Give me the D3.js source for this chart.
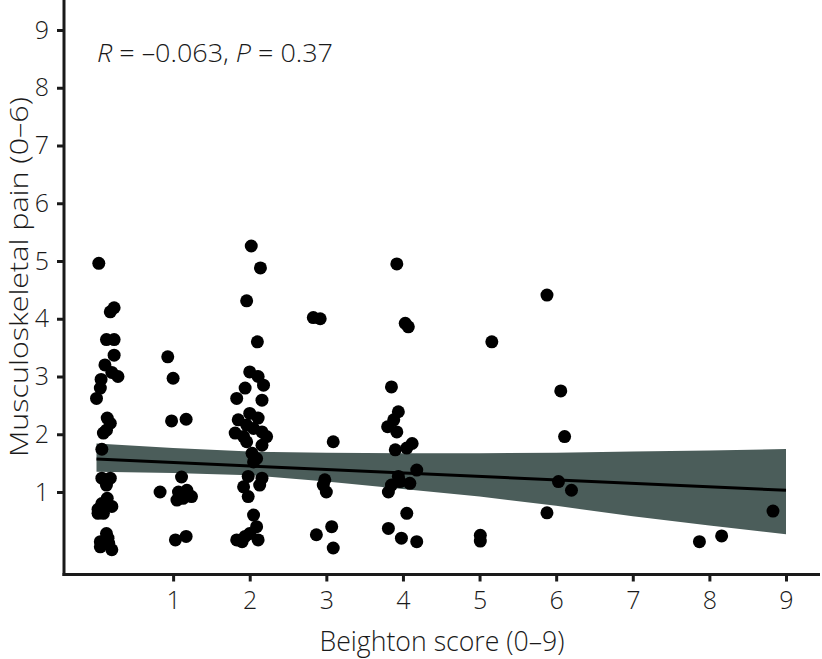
<!DOCTYPE html>
<html>
<head>
<meta charset="utf-8">
<script src="https://cdn.jsdelivr.net/npm/d3@7/dist/d3.min.js"></script>
<style>
  html, body { margin: 0; padding: 0; background: #ffffff; }
  svg { display: block; }
  text { font-family: "Open Sans", "Noto Sans", sans-serif; fill: #1a1a1a; }
</style>
</head>
<body>
<div id="chart"></div>
<script>
// ---- data (jittered positions as plotted) ----
const xTicks = [1, 2, 3, 4, 5, 6, 7, 8, 9];
const yTicks = [1, 2, 3, 4, 5, 6, 7, 8, 9];

const beighton = [
  // group 0
  0.03, 0.18, 0.23, 0.23, 0.13, 0.23, 0.11, 0.20, 0.28, 0.06, 0.05, 0.00,
  0.14, 0.18, 0.13, 0.09, 0.07,
  0.18, 0.07, 0.13, 0.14,
  0.07, 0.20, 0.02, 0.09, 0.02, 0.13, 0.05, 0.16,
  0.20, 0.05, 0.15, 0.09,
  // group 1
  0.93, 1.00, 0.98, 1.17, 1.11, 0.83, 1.07, 1.18, 1.24, 1.05, 1.13, 1.03, 1.17,
  // group 2
  2.02, 2.14, 1.96, 2.10, 2.00, 2.11, 2.18, 1.94, 2.16, 1.83,
  2.00, 2.11, 1.85, 1.96, 2.05, 1.81, 2.16, 1.92, 2.22, 1.96, 2.16,
  2.03, 2.09, 2.05,
  1.98, 2.16, 2.13, 1.92, 1.98,
  2.05, 2.09,
  1.83, 1.94, 2.00, 2.11, 1.90,
  // group 3
  2.83, 2.92, 3.09, 2.98, 2.96, 3.00, 2.87, 3.07, 3.09,
  // group 4
  3.92, 4.07, 4.03, 3.85, 3.94, 3.88, 3.80, 3.92, 4.12, 4.05, 3.90, 4.18,
  3.94, 4.09, 3.85, 3.96, 3.81, 4.05, 3.81, 3.98, 4.18,
  // group 5
  5.16, 5.01, 5.01,
  // group 6
  5.88, 6.06, 6.11, 6.03, 6.20, 5.88,
  // group 8-9
  7.87, 8.16, 8.83
];
const pain = [
  4.96, 4.12, 4.19, 3.64, 3.64, 3.37, 3.20, 3.07, 3.00, 2.95, 2.80, 2.62,
  2.28, 2.19, 2.07, 2.02, 1.74,
  1.24, 1.24, 1.12, 0.89,
  0.80, 0.75, 0.63, 0.63, 0.70, 0.28, 0.14, 0.11,
  0.00, 0.05, 0.20, 0.10,
  // group 1
  3.34, 2.97, 2.23, 2.26, 1.26, 1.00, 1.00, 1.03, 0.92, 0.86, 0.89, 0.17, 0.23,
  // group 2
  5.26, 4.88, 4.31, 3.60, 3.08, 3.00, 2.85, 2.80, 2.59, 2.62,
  2.36, 2.28, 2.25, 2.16, 2.10, 2.02, 2.04, 1.96, 1.96, 1.87, 1.81,
  1.67, 1.58, 1.52,
  1.27, 1.24, 1.12, 1.09, 0.92,
  0.60, 0.40,
  0.17, 0.23, 0.28, 0.17, 0.14,
  // group 3
  4.02, 4.00, 1.87, 1.21, 1.12, 1.00, 0.26, 0.40, 0.03,
  // group 4
  4.95, 3.86, 3.92, 2.82, 2.39, 2.25, 2.13, 2.04, 1.84, 1.76, 1.73, 1.38,
  1.27, 1.15, 1.12, 1.18, 1.00, 0.63, 0.37, 0.20, 0.14,
  // group 5
  3.60, 0.25, 0.15,
  // group 6
  4.41, 2.75, 1.96, 1.18, 1.03, 0.64,
  // group 8-9
  0.14, 0.24, 0.67
];

// regression fit and confidence band
const bandX     = [0,    1,    2,    3,    4,    5,    6,    7,    8,    9];
const bandUpper = [1.84, 1.76, 1.70, 1.68, 1.67, 1.67, 1.68, 1.70, 1.72, 1.745];
const bandLower = [1.35, 1.33, 1.29, 1.18, 1.05, 0.92, 0.76, 0.58, 0.42, 0.27];
const fitX = [0, 9];
const fitY = [1.57, 1.03];

const annotation = { r: "R", rVal: " = \u20130.063, ", p: "P", pVal: " = 0.37" };
const xTitle = "Beighton score (0\u20139)";
const yTitle = "Musculoskeletal pain (0\u20136)";

// ---- drawing ----
const W = 822, H = 659;
const svg = d3.select("#chart").append("svg").attr("width", W).attr("height", H);

const x = d3.scaleLinear().domain([0, 9]).range([96.5, 786]);
const y = d3.scaleLinear().domain([0, 9]).range([549.75, 30]);

const axisColor = "#1a1a1a";
const frameLeft = 64, frameBottom = 574.5, frameRight = 820, frameTop = 0;

// confidence band
const bandData = bandX.map((d, i) => ({ x: d, lo: bandLower[i], hi: bandUpper[i] }));
svg.append("path")
  .datum(bandData)
  .attr("fill", "#4b5d5a")
  .attr("d", d3.area().x(d => x(d.x)).y0(d => y(d.lo)).y1(d => y(d.hi)));

// fit line
svg.append("path")
  .datum(fitX.map((d, i) => ({ x: d, y: fitY[i] })))
  .attr("fill", "none")
  .attr("stroke", "#000")
  .attr("stroke-width", 3)
  .attr("d", d3.line().x(d => x(d.x)).y(d => y(d.y)));

// points
svg.append("g").selectAll("circle")
  .data(beighton.map((d, i) => ({ x: d, y: pain[i] })))
  .join("circle")
  .attr("cx", d => x(d.x))
  .attr("cy", d => y(d.y))
  .attr("r", 6.5)
  .attr("fill", "#000");

// axes
const xAxis = d3.axisBottom(x).tickValues(xTicks).tickSize(7).tickPadding(10).tickFormat(d3.format("d"));
const gx = svg.append("g").attr("transform", `translate(0,${frameBottom})`).call(xAxis);
gx.select(".domain").remove();
gx.selectAll(".tick line").attr("stroke", axisColor).attr("stroke-width", 3);
gx.selectAll(".tick text").attr("font-size", 25).attr("fill", axisColor)
  .attr("font-family", "'Open Sans', sans-serif").attr("font-weight", 300);

const yAxis = d3.axisLeft(y).tickValues(yTicks).tickSize(7).tickPadding(8).tickFormat(d3.format("d"));
const gy = svg.append("g").attr("transform", `translate(${frameLeft},0)`).call(yAxis);
gy.select(".domain").remove();
gy.selectAll(".tick line").attr("stroke", axisColor).attr("stroke-width", 3);
gy.selectAll(".tick text").attr("font-size", 25).attr("fill", axisColor)
  .attr("font-family", "'Open Sans', sans-serif").attr("font-weight", 300);

// frame lines
svg.append("line").attr("x1", frameLeft).attr("x2", frameLeft).attr("y1", frameTop).attr("y2", frameBottom + 1.5)
  .attr("stroke", axisColor).attr("stroke-width", 3);
svg.append("line").attr("x1", frameLeft - 1.5).attr("x2", frameRight).attr("y1", frameBottom).attr("y2", frameBottom)
  .attr("stroke", axisColor).attr("stroke-width", 3);

// titles
svg.append("text")
  .attr("x", 442).attr("y", 651)
  .attr("text-anchor", "middle")
  .attr("font-size", 27).attr("font-weight", 300)
  .attr("textLength", 245).attr("lengthAdjust", "spacingAndGlyphs")
  .text(xTitle);

svg.append("text")
  .attr("transform", "translate(28,277) rotate(-90)")
  .attr("text-anchor", "middle")
  .attr("font-size", 26).attr("font-weight", 300)
  .attr("textLength", 360).attr("lengthAdjust", "spacingAndGlyphs")
  .text(yTitle);

// annotation
const ann = svg.append("text")
  .attr("x", 97).attr("y", 62)
  .attr("font-size", 26).attr("font-weight", 300)
  .attr("textLength", 236).attr("lengthAdjust", "spacingAndGlyphs");
ann.append("tspan").attr("font-style", "italic").text(annotation.r);
ann.append("tspan").text(annotation.rVal);
ann.append("tspan").attr("font-style", "italic").text(annotation.p);
ann.append("tspan").text(annotation.pVal);
</script>
</body>
</html>
